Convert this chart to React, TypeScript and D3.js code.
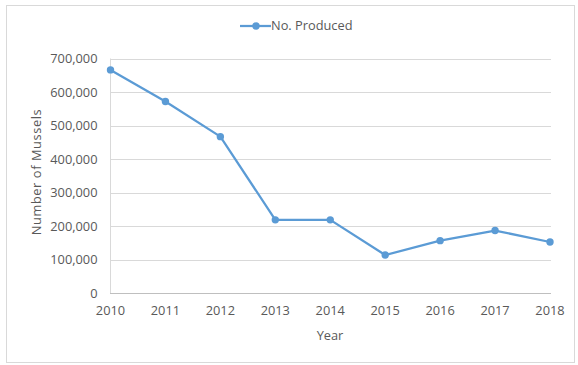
import React from "react";
import * as d3 from "d3";

const years = ["2010", "2011", "2012", "2013", "2014", "2015", "2016", "2017", "2018"];
const produced = [666000, 572000, 467000, 219000, 219000, 114000, 157000, 187000, 153000];
const yTicks = [0, 100000, 200000, 300000, 400000, 500000, 600000, 700000];
const seriesName = "No. Produced";
const xTitle = "Year";
const yTitle = "Number of Mussels";

export default function App() {
  const W = 578, H = 365;
  const x = d3.scalePoint<string>().domain(years).range([110.5, 550]);
  const y = d3.scaleLinear().domain([0, 700000]).range([293.3, 58.5]);
  const fmt = d3.format(",");
  const line = d3
    .line<number>()
    .x((_, i) => x(years[i])!)
    .y((d) => y(d));
  const font = "'Open Sans', 'Liberation Sans', sans-serif";
  const color = "#5b9bd5";
  const textColor = "#595959";
  const fs = 12.8;
  return (
    <svg
      width={W}
      height={H}
      style={{ position: "absolute", left: 0, top: 0, display: "block" }}
      fontFamily={font}
    >
      <rect x={0} y={0} width={W} height={H} fill="#fff" />
      <rect x={6.5} y={5.5} width={568} height={357} fill="none" stroke="#d9d9d9" />
      {yTicks.map((t) =>
        t === 0 ? null : (
          <line key={t} x1={110} x2={551} y1={Math.round(y(t)) + 0.5} y2={Math.round(y(t)) + 0.5} stroke="#d9d9d9" />
        )
      )}
      <line x1={110.5} x2={110.5} y1={y(700000)} y2={y(0)} stroke="#d9d9d9" />
      <line x1={110} x2={551} y1={Math.round(y(0)) + 0.5} y2={Math.round(y(0)) + 0.5} stroke="#bfbfbf" />
      {yTicks.map((t) => (
        <text key={t} x={97.5} y={y(t)} dy="0.35em" textAnchor="end" fontSize={fs} fill={textColor}>
          {fmt(t)}
        </text>
      ))}
      {years.map((yr) => (
        <text key={yr} x={x(yr)} y={311} dy="0.35em" textAnchor="middle" fontSize={fs} fill={textColor}>
          {yr}
        </text>
      ))}
      <text x={330} y={336} dy="0.35em" textAnchor="middle" fontSize={fs} fill={textColor}>
        {xTitle}
      </text>
      <text
        transform={`translate(37,172) rotate(-90)`}
        dy="0.35em"
        textAnchor="middle"
        fontSize={fs}
        letterSpacing={0.6}
        fill={textColor}
      >
        {yTitle}
      </text>
      <path d={line(produced)!} fill="none" stroke={color} strokeWidth={2.25} strokeLinejoin="round" />
      {produced.map((v, i) => (
        <circle key={i} cx={x(years[i])} cy={y(v)} r={3.7} fill={color} />
      ))}
      <line x1={240} x2={271} y1={26} y2={26} stroke={color} strokeWidth={2.25} />
      <circle cx={256} cy={26} r={3.7} fill={color} />
      <text x={271} y={25.7} dy="0.35em" fontSize={fs} fill={textColor}>
        {seriesName}
      </text>
    </svg>
  );
}
